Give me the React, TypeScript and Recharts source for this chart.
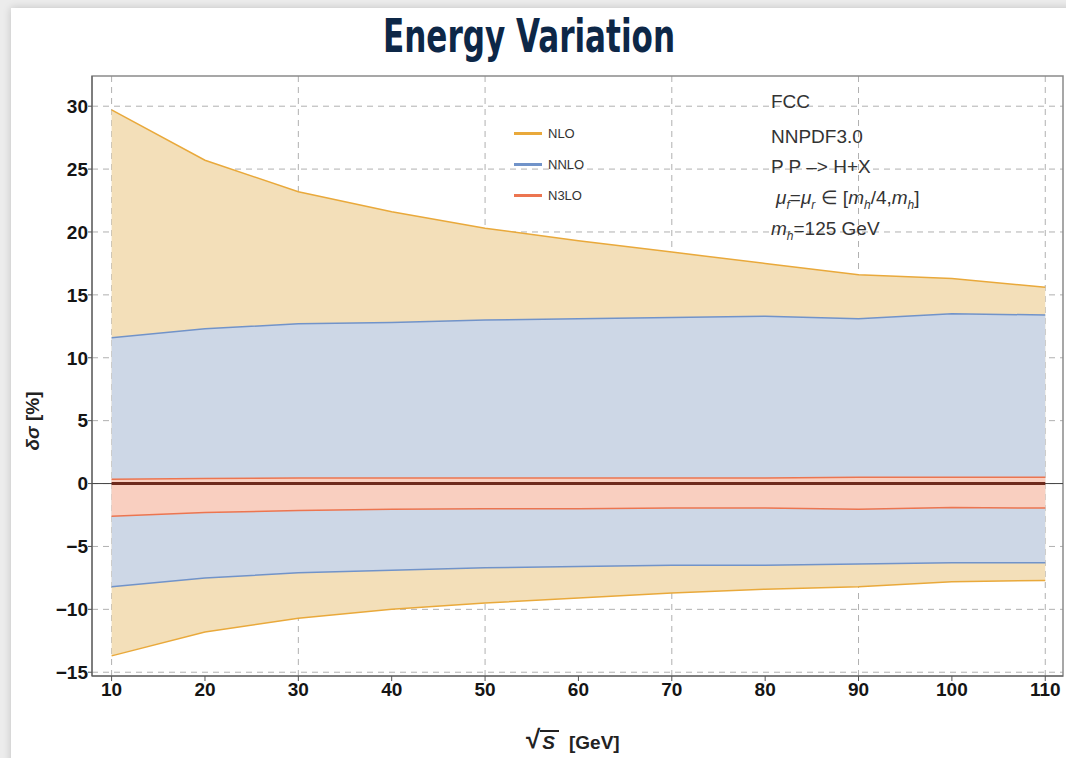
import React from 'react';
import {
  ComposedChart,
  Area,
  Line,
  XAxis,
  YAxis,
  CartesianGrid,
  ReferenceLine,
  ReferenceArea,
} from 'recharts';

// sqrt(S) in GeV
const ENERGY = [10, 20, 30, 40, 50, 60, 70, 80, 90, 100, 110];

// scale-variation envelopes, delta sigma in %
const NLO_UP = [29.7, 25.7, 23.2, 21.6, 20.3, 19.3, 18.4, 17.5, 16.6, 16.3, 15.6];
const NLO_DOWN = [-13.7, -11.8, -10.7, -10.0, -9.5, -9.1, -8.7, -8.4, -8.2, -7.8, -7.7];
const NNLO_UP = [11.6, 12.3, 12.7, 12.8, 13.0, 13.1, 13.2, 13.3, 13.1, 13.5, 13.4];
const NNLO_DOWN = [-8.2, -7.5, -7.1, -6.9, -6.7, -6.6, -6.5, -6.5, -6.4, -6.3, -6.3];
const N3LO_UP = [0.35, 0.4, 0.45, 0.45, 0.45, 0.45, 0.45, 0.45, 0.5, 0.5, 0.5];
const N3LO_DOWN = [-2.6, -2.3, -2.15, -2.05, -2.0, -2.0, -1.95, -1.95, -2.05, -1.9, -1.95];
const CENTRAL = [0, 0, 0, 0, 0, 0, 0, 0, 0, 0, 0];

const Y_TICKS = [-15, -10, -5, 0, 5, 10, 15, 20, 25, 30];
const X_GRID = [10, 30, 50, 70, 90, 110];

const X_DOMAIN: [number, number] = [7.9, 111.9];
const Y_DOMAIN: [number, number] = [-15.3, 32.4];

const COLORS = {
  nlo: { fill: '#f3dfb9', stroke: '#e9a93b' },
  nnlo: { fill: '#cdd7e6', stroke: '#7193c9' },
  n3lo: { fill: '#f9cfc0', stroke: '#ec7550' },
};

const LEGEND = [
  { name: 'NLO', color: COLORS.nlo.stroke },
  { name: 'NNLO', color: COLORS.nnlo.stroke },
  { name: 'N3LO', color: COLORS.n3lo.stroke },
];

const data = ENERGY.map((x, i) => ({
  x,
  nlo: [NLO_DOWN[i], NLO_UP[i]],
  nnlo: [NNLO_DOWN[i], NNLO_UP[i]],
  n3lo: [N3LO_DOWN[i], N3LO_UP[i]],
  central: CENTRAL[i],
}));

const tickStyle = {
  fill: '#151515',
  fontSize: 19,
  fontWeight: 700,
  fontFamily: '"Liberation Sans", Arial, sans-serif',
};

// typographic minus on negative ticks
const fmtTick = (v: number) => (v < 0 ? `\u2212${Math.abs(v)}` : `${v}`);

const noteStyle: React.CSSProperties = {
  position: 'absolute',
  left: 771,
  fontSize: 19,
  color: '#333',
  fontFamily: '"Liberation Sans", Arial, sans-serif',
  lineHeight: '20px',
  whiteSpace: 'nowrap',
};

const sub: React.CSSProperties = { fontSize: 12, verticalAlign: '-5px', lineHeight: 0 };

export default function App() {
  return (
    <div
      style={{
        position: 'absolute',
        left: 0,
        top: 0,
        width: 1066,
        height: 758,
        background: '#ececec',
        overflow: 'hidden',
      }}
    >
      {/* white card */}
      <div
        style={{
          position: 'absolute',
          left: 11,
          top: 8,
          width: 1080,
          height: 780,
          background: '#fff',
          boxShadow: '0 0 8px rgba(0,0,0,0.18)',
        }}
      />

      <svg style={{ position: 'absolute', left: 0, top: 0 }} width={1066} height={70}>
        <text
          x={383}
          y={52}
          textLength={292}
          lengthAdjust="spacingAndGlyphs"
          fill="#0d2747"
          fontSize={46}
          fontWeight={700}
          fontFamily='"DejaVu Sans Condensed", "DejaVu Sans", sans-serif'
        >
          Energy Variation
        </text>
      </svg>

      <div style={{ position: 'absolute', left: 0, top: 0 }}>
        <ComposedChart
          width={1066}
          height={758}
          data={data}
          margin={{ top: 76, right: 3, bottom: 52, left: 32 }}
        >
          <CartesianGrid
            stroke="#b0b0b0"
            strokeDasharray="6 5"
            verticalValues={X_GRID}
            horizontalValues={Y_TICKS}
          />
          <XAxis
            type="number"
            dataKey="x"
            domain={X_DOMAIN}
            ticks={ENERGY}
            allowDataOverflow
            height={30}
            tick={tickStyle}
            tickSize={5}
            tickMargin={2}
            axisLine={{ stroke: '#555' }}
            tickLine={{ stroke: '#555' }}
          />
          <YAxis
            type="number"
            domain={Y_DOMAIN}
            ticks={Y_TICKS}
            tickFormatter={fmtTick}
            allowDataOverflow
            width={60}
            tick={tickStyle}
            tickSize={4}
            tickMargin={0}
            axisLine={{ stroke: '#555' }}
            tickLine={{ stroke: '#555' }}
          />
          <ReferenceArea
            x1={X_DOMAIN[0]}
            x2={X_DOMAIN[1]}
            y1={Y_DOMAIN[0]}
            y2={Y_DOMAIN[1]}
            fill="none"
            stroke="#8a8a8a"
            strokeWidth={1.5}
          />
          <Area
            type="linear"
            dataKey="nlo"
            name="NLO"
            fill={COLORS.nlo.fill}
            fillOpacity={1}
            stroke={COLORS.nlo.stroke}
            strokeWidth={1.5}
            isAnimationActive={false}
          />
          <Area
            type="linear"
            dataKey="nnlo"
            name="NNLO"
            fill={COLORS.nnlo.fill}
            fillOpacity={1}
            stroke={COLORS.nnlo.stroke}
            strokeWidth={1.5}
            isAnimationActive={false}
          />
          <Area
            type="linear"
            dataKey="n3lo"
            name="N3LO"
            fill={COLORS.n3lo.fill}
            fillOpacity={1}
            stroke={COLORS.n3lo.stroke}
            strokeWidth={1.5}
            isAnimationActive={false}
          />
          <ReferenceLine y={0} stroke="#444" strokeWidth={1} />
          <Line
            type="linear"
            dataKey="central"
            stroke="#6e2a1c"
            strokeWidth={3}
            dot={false}
            isAnimationActive={false}
          />
        </ComposedChart>
      </div>

      {/* legend */}
      {LEGEND.map((item, i) => (
        <div
          key={item.name}
          style={{
            position: 'absolute',
            left: 514,
            top: 126 + i * 31,
            display: 'flex',
            alignItems: 'center',
            fontSize: 13,
            color: '#333',
            fontFamily: '"Liberation Sans", Arial, sans-serif',
          }}
        >
          <div style={{ width: 28, height: 3, background: item.color, marginRight: 6 }} />
          <span>{item.name}</span>
        </div>
      ))}

      {/* annotations */}
      <div style={{ ...noteStyle, top: 92 }}>FCC</div>
      <div style={{ ...noteStyle, top: 127 }}>NNPDF3.0</div>
      <div style={{ ...noteStyle, top: 157 }}>P P –&gt; H+X</div>
      <div style={{ ...noteStyle, top: 188, left: 776 }}>
        <i>μ</i><i style={sub}>f</i>=<i>μ</i><i style={sub}>r</i> ∈ [<i>m</i><i style={sub}>h</i>/4,<i>m</i>
        <i style={sub}>h</i>]
      </div>
      <div style={{ ...noteStyle, top: 219 }}>
        <i>m</i><i style={sub}>h</i>=125 GeV
      </div>

      {/* y axis title */}
      <div
        style={{
          position: 'absolute',
          left: 33,
          top: 421,
          transform: 'translate(-50%, -50%) rotate(-90deg)',
          fontSize: 19,
          fontWeight: 700,
          color: '#222',
          fontFamily: '"Liberation Sans", Arial, sans-serif',
          whiteSpace: 'nowrap',
        }}
      >
        <i>δσ</i> [%]
      </div>

      {/* x axis title */}
      <div
        style={{
          position: 'absolute',
          left: 526,
          top: 726,
          display: 'flex',
          alignItems: 'flex-end',
          fontSize: 19,
          fontWeight: 700,
          color: '#222',
          fontFamily: '"Liberation Sans", Arial, sans-serif',
          whiteSpace: 'nowrap',
        }}
      >
        <span style={{ fontSize: 26, lineHeight: '27px' }}>√</span>
        <span
          style={{
            borderTop: '2px solid #222',
            fontStyle: 'italic',
            padding: '1px 4px 0 2px',
            lineHeight: '20px',
          }}
        >
          S
        </span>
        <span style={{ marginLeft: 10, lineHeight: '20px' }}>[GeV]</span>
      </div>
    </div>
  );
}
